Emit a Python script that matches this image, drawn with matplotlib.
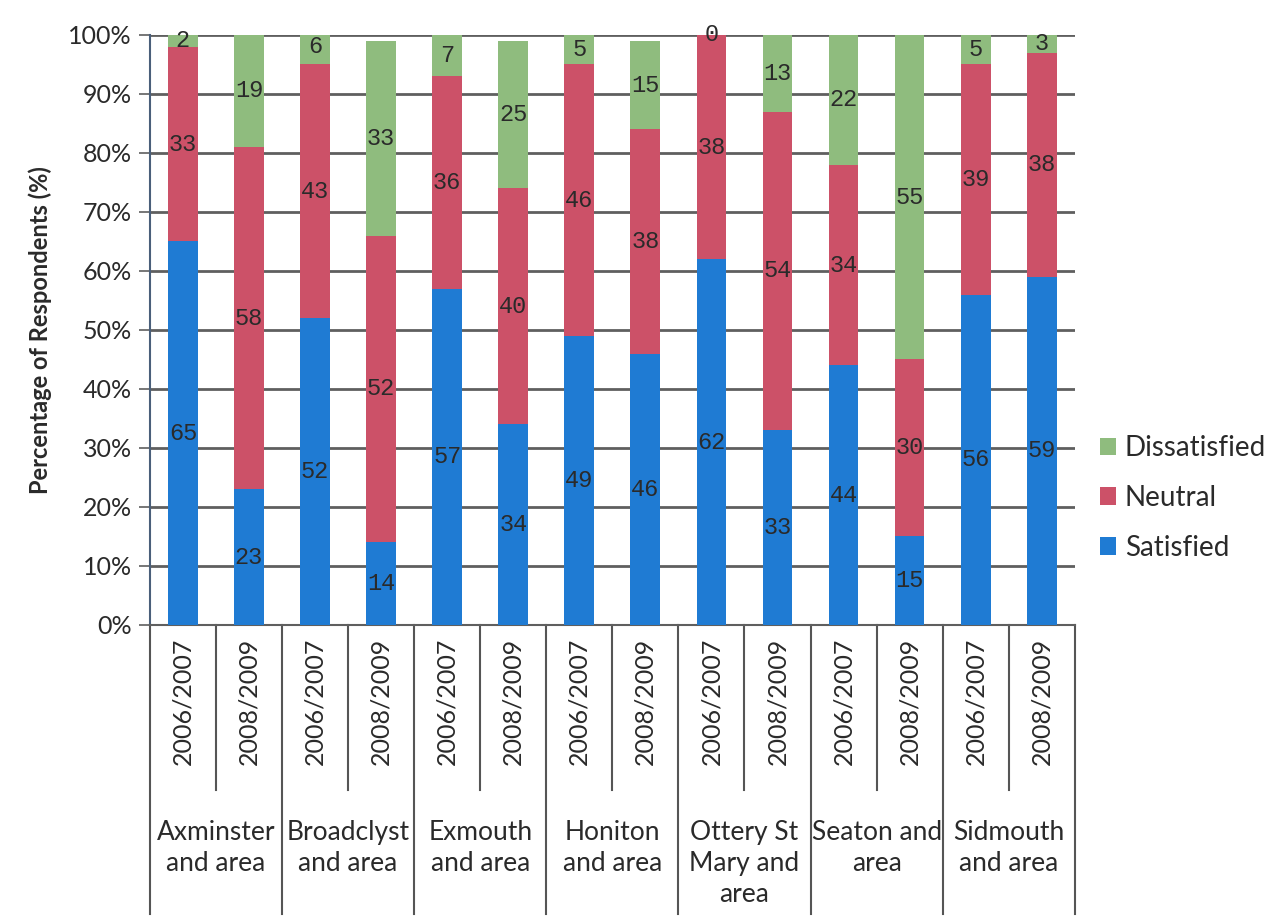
import matplotlib
matplotlib.use("Agg")
import matplotlib.pyplot as plt
import numpy as np

# survey areas and the two survey periods
areas = ["Axminster\nand area", "Broadclyst\nand area", "Exmouth\nand area",
         "Honiton\nand area", "Ottery St\nMary and\narea", "Seaton and\narea",
         "Sidmouth\nand area"]
periods = ["2006/2007", "2008/2009"]

# respondents (%) per bar, ordered area by area, 2006/2007 then 2008/2009
satisfied = [65, 23, 52, 14, 57, 34, 49, 46, 62, 33, 44, 15, 56, 59]
neutral = [33, 58, 43, 52, 36, 40, 46, 38, 38, 54, 34, 30, 39, 38]
dissatisfied = [2, 19, 6, 33, 7, 25, 5, 15, 0, 13, 22, 55, 5, 3]

c_sat = "#1f7bd3"
c_neu = "#cc5168"
c_dis = "#8fbc7e"
grid_c = "#5f5f5f"
txt_c = "#2a2a2a"

fig = plt.figure(figsize=(12.81, 9.19), dpi=100)
ax = fig.add_axes([0.117, 0.320, 0.722, 0.642])

x = np.arange(len(satisfied))
sat = np.array(satisfied)
neu = np.array(neutral)
dis = np.array(dissatisfied)
w = 0.45

b1 = ax.bar(x, sat, w, color=c_sat, label="Satisfied", zorder=3)
b2 = ax.bar(x, neu, w, bottom=sat, color=c_neu, label="Neutral", zorder=3)
b3 = ax.bar(x, dis, w, bottom=sat + neu, color=c_dis, label="Dissatisfied", zorder=3)

# value labels in the middle of each segment
lab_font = dict(family="Liberation Mono", fontsize=17, color=txt_c, zorder=4,
                ha="center", va="center")
for i in x:
    ax.text(i, sat[i] / 2, str(sat[i]), **lab_font)
    ax.text(i, sat[i] + neu[i] / 2, str(neu[i]), **lab_font)
    ax.text(i, sat[i] + neu[i] + dis[i] / 2, str(dis[i]), **lab_font)

ax.set_xlim(-0.5, len(x) - 0.5)
ax.set_ylim(0, 100)
ax.set_yticks(np.arange(0, 101, 10))
ax.set_yticklabels([f"{v}%" for v in range(0, 101, 10)],
                   family="Lato", fontsize=18, color=txt_c)
ax.tick_params(axis="y", length=8, width=1.2, color=grid_c, pad=5)
ax.set_xticks([])
ax.yaxis.grid(True, color=grid_c, lw=2, zorder=0)
for s in ["top", "right"]:
    ax.spines[s].set_visible(False)
ax.spines["left"].set_color("#4a5f7a")
ax.spines["left"].set_linewidth(1.5)
ax.spines["bottom"].set_color(grid_c)
ax.spines["bottom"].set_linewidth(1.5)

ax.set_ylabel("Percentage of Respondents (%)", family="Lato", fontsize=17,
              fontweight="bold", color=txt_c, labelpad=12)

# two-level category axis drawn below the plot
tr = ax.get_xaxis_transform()
for i in x:
    ax.text(i, -0.13, periods[i % 2], transform=tr, rotation=90, ha="center",
            va="center", family="Lato", fontsize=18, color=txt_c)
for k in range(len(areas)):
    ax.plot([2 * k + 0.5, 2 * k + 0.5], [0, -0.28], transform=tr,
            color="#555555", lw=1.5, clip_on=False)
    ax.text(2 * k + 0.5, -0.33, areas[k], transform=tr, ha="center", va="top",
            family="Lato", fontsize=19, color=txt_c, linespacing=1.3)
for k in range(len(areas) + 1):
    ax.plot([2 * k - 0.5, 2 * k - 0.5], [0, -0.49], transform=tr,
            color="#555555", lw=1.5, clip_on=False)

leg = ax.legend(handles=[b3, b2, b1], loc="center left",
                bbox_to_anchor=(1.0, 0.215), frameon=False,
                prop={"family": "Lato", "size": 20}, handlelength=0.6,
                handleheight=0.6, handletextpad=0.3, labelspacing=0.85)
for t in leg.get_texts():
    t.set_color(txt_c)

fig.savefig("out.png", dpi=100, facecolor="white")
